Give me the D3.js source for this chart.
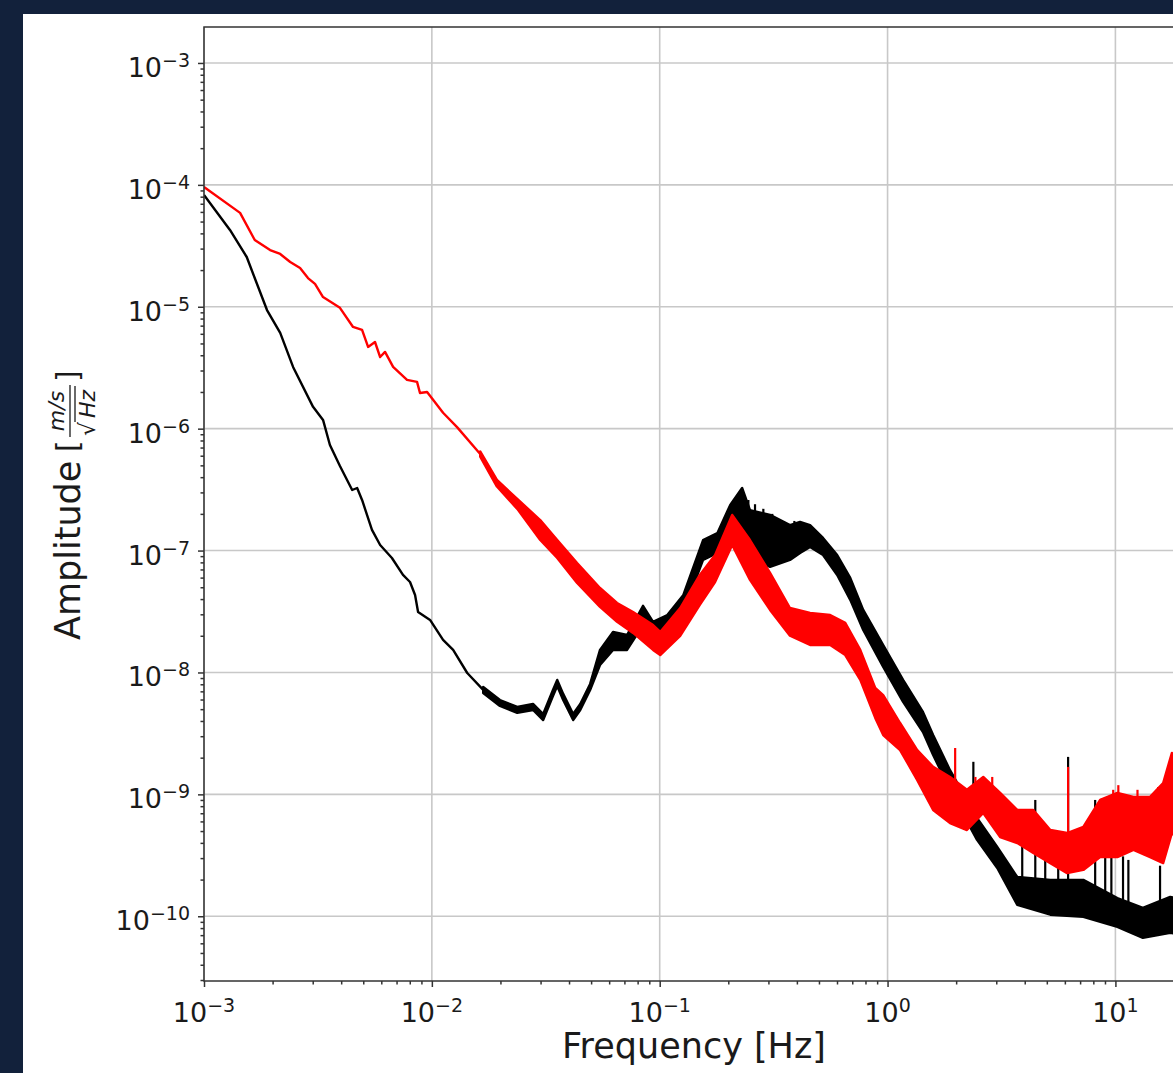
<!DOCTYPE html>
<html>
<head>
<meta charset="utf-8">
<script src="https://cdn.jsdelivr.net/npm/d3@7"></script>
<style>
  body { margin: 0; background: #12213b; }
  svg { display: block; }
  text { font-family: "DejaVu Sans", sans-serif; fill: #1a1a1a; }
</style>
</head>
<body>
<svg id="chart"></svg>
<script>
// Values (frequency in Hz, amplitude in m/s/sqrt(Hz))
// black trace, clean low-frequency part
const blackThinFreq = [1.0e-3, 1.3e-3, 1.54e-3, 1.89e-3, 2.16e-3, 2.46e-3, 3.01e-3, 3.33e-3, 3.57e-3, 3.95e-3, 4.47e-3, 4.70e-3, 4.94e-3, 5.46e-3, 5.93e-3, 6.68e-3, 7.47e-3, 8.02e-3, 8.44e-3, 8.70e-3, 9.82e-3, 1.12e-2, 1.24e-2, 1.43e-2, 1.68e-2];
const blackThinAmp = [8.26e-5, 4.27e-5, 2.56e-5, 9.4e-6, 6.1e-6, 3.21e-6, 1.51e-6, 1.18e-6, 7.35e-7, 4.94e-7, 3.14e-7, 3.26e-7, 2.6e-7, 1.48e-7, 1.11e-7, 8.69e-8, 6.31e-8, 5.52e-8, 4.32e-8, 3.13e-8, 2.70e-8, 1.85e-8, 1.53e-8, 9.9e-9, 7.19e-9];

// black trace, noisy part (upper and lower edge of the band)
const blackBandFreq = [1.68e-2, 1.99e-2, 2.37e-2, 2.78e-2, 3.08e-2, 3.40e-2, 3.55e-2, 3.77e-2, 4.17e-2, 4.48e-2, 4.95e-2, 5.47e-2, 6.24e-2, 7.19e-2, 8.45e-2, 9.35e-2, 0.108, 0.127, 0.155, 0.179, 0.204, 0.230, 0.249, 0.305, 0.373, 0.413, 0.457, 0.521, 0.601, 0.686, 0.782, 0.957, 1.17, 1.43, 1.585, 1.88, 2.47, 3.03, 3.71, 5.18, 7.23, 10.2, 13.2, 17.4, 20];
const blackBandHigh = [7.6e-9, 5.94e-9, 5.21e-9, 5.52e-9, 4.56e-9, 7.19e-9, 8.69e-9, 6.67e-9, 4.56e-9, 5.52e-9, 8.05e-9, 1.53e-8, 2.15e-8, 2.03e-8, 3.52e-8, 2.60e-8, 2.96e-8, 4.32e-8, 1.22e-7, 1.39e-7, 2.37e-7, 3.26e-7, 2.15e-7, 1.96e-7, 1.62e-7, 1.72e-7, 1.62e-7, 1.27e-7, 9.2e-8, 5.96e-8, 3.26e-8, 1.68e-8, 8.69e-9, 4.74e-9, 3.07e-9, 1.58e-9, 6.4e-10, 3.70e-10, 2.10e-10, 1.99e-10, 1.99e-10, 1.41e-10, 1.17e-10, 1.44e-10, 1.36e-10];
const blackBandLow = [6.79e-9, 5.31e-9, 4.66e-9, 4.92e-9, 4.07e-9, 6.41e-9, 7.74e-9, 5.94e-9, 4.07e-9, 4.92e-9, 7.19e-9, 1.15e-8, 1.53e-8, 1.53e-8, 2.45e-8, 1.95e-8, 2.15e-8, 3.13e-8, 8.38e-8, 9.55e-8, 1.34e-7, 1.22e-7, 8.87e-8, 7.35e-8, 8.38e-8, 9.55e-8, 1.07e-7, 9.2e-8, 6.31e-8, 3.94e-8, 2.23e-8, 1.11e-8, 5.73e-9, 3.25e-9, 2.10e-9, 1.09e-9, 4.23e-10, 2.49e-10, 1.24e-10, 1.03e-10, 9.9e-11, 8.19e-11, 6.65e-11, 7.31e-11, 7.0e-11];

// red trace, clean low-frequency part
const redThinFreq = [1.0e-3, 1.44e-3, 1.67e-3, 1.95e-3, 2.16e-3, 2.39e-3, 2.64e-3, 2.86e-3, 3.07e-3, 3.33e-3, 3.95e-3, 4.51e-3, 4.94e-3, 5.25e-3, 5.63e-3, 5.93e-3, 6.23e-3, 6.76e-3, 7.78e-3, 8.61e-3, 8.87e-3, 9.53e-3, 1.12e-2, 1.29e-2, 1.63e-2];
const redThinAmp = [9.6e-5, 5.89e-5, 3.53e-5, 2.92e-5, 2.71e-5, 2.33e-5, 2.08e-5, 1.72e-5, 1.54e-5, 1.20e-5, 9.8e-6, 6.83e-6, 6.46e-6, 4.68e-6, 5.14e-6, 3.87e-6, 4.26e-6, 3.21e-6, 2.51e-6, 2.42e-6, 1.96e-6, 2.0e-6, 1.35e-6, 1.03e-6, 6.2e-7];

// red trace, noisy part
const redBandFreq = [1.63e-2, 1.93e-2, 2.37e-2, 2.99e-2, 3.55e-2, 4.34e-2, 5.47e-2, 6.50e-2, 7.64e-2, 9.35e-2, 0.1005, 0.123, 0.150, 0.175, 0.208, 0.249, 0.305, 0.373, 0.457, 0.560, 0.652, 0.759, 0.883, 0.957, 1.135, 1.35, 1.585, 1.88, 2.23, 2.63, 3.12, 3.71, 4.36, 5.18, 6.14, 7.23, 8.57, 10.2, 12.0, 14.2, 16.2, 17.7, 20];
const redBandHigh = [6.5e-7, 3.8e-7, 2.65e-7, 1.78e-7, 1.22e-7, 7.91e-8, 4.93e-8, 3.72e-8, 3.13e-8, 2.45e-8, 2.15e-8, 3.38e-8, 6.31e-8, 9.2e-8, 1.96e-7, 1.22e-7, 6.55e-8, 3.38e-8, 3.08e-8, 2.96e-8, 2.55e-8, 1.53e-8, 7.46e-9, 6.53e-9, 3.85e-9, 2.31e-9, 1.68e-9, 1.39e-9, 1.09e-9, 1.39e-9, 1.03e-9, 7.45e-10, 7.45e-10, 5.1e-10, 4.82e-10, 5.4e-10, 9.0e-10, 1.03e-9, 9.53e-10, 9.53e-10, 1.24e-9, 2.19e-9, 1.5e-9];
const redBandLow = [5.9e-7, 3.35e-7, 2.2e-7, 1.22e-7, 8.69e-8, 5.42e-8, 3.45e-8, 2.60e-8, 2.11e-8, 1.53e-8, 1.39e-8, 2.0e-8, 3.58e-8, 5.52e-8, 1.11e-7, 5.74e-8, 3.26e-8, 2.0e-8, 1.68e-8, 1.68e-8, 1.39e-8, 8.69e-9, 4.24e-9, 3.07e-9, 2.31e-9, 1.31e-9, 7.45e-10, 5.82e-10, 5.1e-10, 7.03e-10, 4.47e-10, 3.99e-10, 3.30e-10, 2.73e-10, 2.26e-10, 2.40e-10, 3.06e-10, 3.06e-10, 3.50e-10, 3.06e-10, 2.73e-10, 4.82e-10, 4.0e-10];

// narrow lines sticking out of the noise
const blackSpikeFreq = [0.230, 0.245, 0.262, 0.285, 0.312, 0.390, 0.430, 2.38, 3.90, 4.45, 4.92, 5.61, 6.2, 8.15, 9.02, 9.6, 10.8, 11.4, 15.7];
const blackSpikeTop = [3.1e-7, 2.6e-7, 2.4e-7, 2.2e-7, 2.0e-7, 1.75e-7, 1.65e-7, 1.85e-9, 3.85e-10, 9.0e-10, 5.61e-10, 4.65e-10, 2.03e-9, 9.0e-10, 3.5e-10, 3.3e-10, 3.1e-10, 2.9e-10, 2.6e-10];
const blackSpikeBase = [1.5e-7, 1.3e-7, 1.2e-7, 1.1e-7, 1.0e-7, 1.1e-7, 1.2e-7, 5.1e-10, 1.81e-10, 1.64e-10, 1.64e-10, 1.64e-10, 1.64e-10, 1.64e-10, 1.36e-10, 1.36e-10, 1.3e-10, 1.24e-10, 1.13e-10];
const redSpikeFreq = [1.98, 2.43, 2.88, 6.2, 9.78, 10.3, 12.5, 15.4];
const redSpikeTop = [2.40e-9, 1.39e-9, 1.39e-9, 1.68e-9, 1.09e-9, 1.19e-9, 1.09e-9, 1.15e-9];
const redSpikeBase = [9.0e-10, 7.45e-10, 7.45e-10, 2.9e-10, 7.45e-10, 5.1e-10, 7.45e-10, 7.45e-10];

// axis ticks
const xTickExp = [-3, -2, -1, 0, 1];
const yTickExp = [-3, -4, -5, -6, -7, -8, -9, -10];

const width = 1173, height = 1073;
const svg = d3.select("#chart").attr("width", width).attr("height", height);

// white figure panel on the dark page
svg.append("rect").attr("x", 23).attr("y", 14).attr("width", width - 23).attr("height", height - 14).attr("fill", "#ffffff");

const plotLeft = 204, plotRight = 1184, plotTop = 27, plotBottom = 981;
const x = d3.scaleLog().domain([1e-3, 20]).range([plotLeft, plotRight]);
const y = d3.scaleLog().domain([Math.pow(10, -10.531), Math.pow(10, -2.705)]).range([plotBottom, plotTop]);

const xMajor = xTickExp.map(e => Math.pow(10, e));
const yMajor = yTickExp.map(e => Math.pow(10, e));
const minorOf = (lo, hi) => {
    const out = [];
    for (let e = lo; e <= hi; e++) for (let m = 2; m <= 9; m++) out.push(m * Math.pow(10, e));
    return out;
};
const xMinor = minorOf(-3, 1).filter(v => v <= 20);
const yMinor = minorOf(-11, -3).filter(v => v >= y.domain()[0] && v <= y.domain()[1]);

// grid
const grid = svg.append("g").attr("stroke", "#c8c8c8").attr("stroke-width", 1.6);
grid.selectAll(".gx").data(xMajor).join("line")
    .attr("x1", d => x(d)).attr("x2", d => x(d)).attr("y1", plotTop).attr("y2", plotBottom);
grid.selectAll(".gy").data(yMajor).join("line")
    .attr("x1", plotLeft).attr("x2", plotRight).attr("y1", d => y(d)).attr("y2", d => y(d));

// clip to the axes
svg.append("clipPath").attr("id", "plotClip").append("rect")
    .attr("x", plotLeft).attr("y", plotTop).attr("width", plotRight - plotLeft).attr("height", plotBottom - plotTop);
const plot = svg.append("g").attr("clip-path", "url(#plotClip)");

const line = d3.line().x(d => x(d[0])).y(d => y(d[1]));
const band = d3.area().x(d => x(d[0])).y0(d => y(d[1])).y1(d => y(d[2]));

function drawTrace(color, thinF, thinA, bandF, bandLo, bandHi, spF, spTop, spBase) {
    const g = plot.append("g");
    g.append("path")
        .datum(thinF.map((f, i) => [f, thinA[i]]))
        .attr("d", line)
        .attr("fill", "none").attr("stroke", color).attr("stroke-width", 2.4)
        .attr("stroke-linejoin", "round");
    g.append("path")
        .datum(bandF.map((f, i) => [f, bandLo[i], bandHi[i]]))
        .attr("d", band)
        .attr("fill", color).attr("stroke", color).attr("stroke-width", 2.4).attr("stroke-linejoin", "round");
    g.selectAll("line.spike")
        .data(spF.map((f, i) => [f, spTop[i], spBase[i]]))
        .join("line")
        .attr("x1", d => x(d[0])).attr("x2", d => x(d[0]))
        .attr("y1", d => y(d[1])).attr("y2", d => y(d[2]))
        .attr("stroke", color).attr("stroke-width", 2.2);
}

drawTrace("#000000", blackThinFreq, blackThinAmp, blackBandFreq, blackBandLow, blackBandHigh, blackSpikeFreq, blackSpikeTop, blackSpikeBase);
drawTrace("#ff0000", redThinFreq, redThinAmp, redBandFreq, redBandLow, redBandHigh, redSpikeFreq, redSpikeTop, redSpikeBase);

// axes: ticks only, spines drawn separately
const tickColor = "#333333";
function styleAxis(g) {
    g.select(".domain").remove();
    g.selectAll(".tick line").attr("stroke", tickColor).attr("stroke-width", 1.5);
    g.selectAll(".tick text").remove();
}
svg.append("g").attr("transform", `translate(0,${plotBottom})`)
    .call(d3.axisBottom(x).tickValues(xMajor).tickSize(6).tickFormat("")).call(styleAxis);
svg.append("g").attr("transform", `translate(0,${plotBottom})`)
    .call(d3.axisBottom(x).tickValues(xMinor).tickSize(3.5).tickFormat("")).call(styleAxis);
svg.append("g").attr("transform", `translate(${plotLeft},0)`)
    .call(d3.axisLeft(y).tickValues(yMajor).tickSize(6).tickFormat("")).call(styleAxis);
svg.append("g").attr("transform", `translate(${plotLeft},0)`)
    .call(d3.axisLeft(y).tickValues(yMinor).tickSize(3.5).tickFormat("")).call(styleAxis);

// spines
svg.append("rect").attr("x", plotLeft).attr("y", plotTop).attr("width", plotRight - plotLeft).attr("height", plotBottom - plotTop)
    .attr("fill", "none").attr("stroke", tickColor).attr("stroke-width", 1.5);

// tick labels as 10^n
const expText = e => (e < 0 ? "\u2212" + Math.abs(e) : String(e));
svg.append("g").selectAll("text").data(xTickExp).join("text")
    .attr("x", d => x(Math.pow(10, d))).attr("y", 1022)
    .attr("text-anchor", "middle").attr("font-size", 27)
    .each(function (d) {
        const t = d3.select(this);
        t.append("tspan").text("10");
        t.append("tspan").attr("dy", -10).attr("font-size", 19).text(expText(d));
    });
svg.append("g").selectAll("text").data(yTickExp).join("text")
    .attr("x", 190).attr("y", d => y(Math.pow(10, d)) + 14)
    .attr("text-anchor", "end").attr("font-size", 27)
    .each(function (d) {
        const t = d3.select(this);
        t.append("tspan").text("10");
        t.append("tspan").attr("dy", -10).attr("font-size", 19).text(expText(d));
    });

// axis titles
svg.append("text").attr("x", 694).attr("y", 1058).attr("text-anchor", "middle")
    .attr("font-size", 35).text("Frequency [Hz]");

const yl = svg.append("g").attr("transform", "translate(80,504) rotate(-90)");
yl.append("text").attr("x", -136).attr("y", 0).attr("font-size", 35).text("Amplitude");
yl.append("text").attr("x", 52).attr("y", -2).attr("font-size", 30).text("[");
yl.append("text").attr("x", 93).attr("y", -16).attr("text-anchor", "middle")
    .attr("font-size", 22).attr("font-style", "italic").text("m/s");
yl.append("line").attr("x1", 67).attr("x2", 119).attr("y1", -10).attr("y2", -10)
    .attr("stroke", "#1a1a1a").attr("stroke-width", 1.3);
yl.append("text").attr("x", 68).attr("y", 15).attr("font-size", 22).text("\u221A");
yl.append("text").attr("x", 86).attr("y", 15).attr("font-size", 22).attr("font-style", "italic").text("Hz");
yl.append("line").attr("x1", 82).attr("x2", 118).attr("y1", -5).attr("y2", -5)
    .attr("stroke", "#1a1a1a").attr("stroke-width", 1.3);
yl.append("text").attr("x", 122).attr("y", -2).attr("font-size", 30).text("]");
</script>
</body>
</html>
